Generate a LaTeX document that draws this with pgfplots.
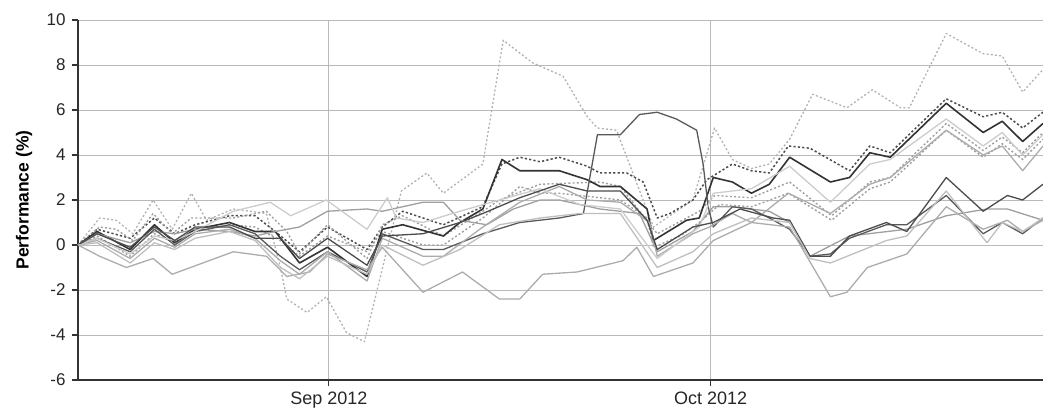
\documentclass[border=0pt]{standalone}
\usepackage{fontspec}
\setmainfont{Liberation Sans}
\usepackage{pgfplots}
\pgfplotsset{compat=1.18}

% x = days from 1 Sep 2012 (Oct 1 = 30)
\pgfplotsset{
  dl/.style={gray!60, line width=1.3pt, dash pattern=on 2pt off 2.2pt},
  dd/.style={black!70, line width=1.5pt, dash pattern=on 2.2pt off 2.2pt},
  dm/.style={gray!75, line width=1.4pt, dash pattern=on 2pt off 2.2pt},
  sd/.style={black!80, line width=1.6pt},
  sm/.style={gray!75, line width=1.3pt},
  sl/.style={gray!50, line width=1.3pt},
}

\begin{document}
\begin{tikzpicture}
\begin{axis}[
  name=ax,
  scale only axis,
  width=965pt, height=360pt,
  xmin=-19.7, xmax=56.1,
  ymin=-6, ymax=10,
  ytick={-6,-4,...,10},
  xtick={0,30},
  xticklabels={Sep 2012, Oct 2012},
  axis x line*=bottom,
  axis y line*=left,
  axis line style={black!80, line width=1.8pt, -},
  ymajorgrids, xmajorgrids,
  grid style={gray!55, line width=0.8pt},
  tick style={black!80, line width=1.2pt},
  major tick length=6pt,
  tick align=outside,
  yticklabel style={font=\fontsize{17}{19}\selectfont, text=black!85, xshift=-3pt},
  xticklabel style={font=\fontsize{18}{20}\selectfont, text=black!85, yshift=-2pt},
  /pgf/number format/assume math mode=true,
  ylabel={\bfseries Performance (\%)},
  ylabel style={font=\fontsize{17.5}{19}\selectfont, at={([xshift=-54pt]axis description cs:0,0.5)}, anchor=center},
  every axis plot/.append style={line join=round, mark=none},
]
% light dotted, most volatile
\addplot[dl] coordinates {(-19.7,0) (-18.0,1.2) (-16.7,1.1) (-15.4,0.5) (-13.8,2.0) (-12.3,0.7) (-10.8,2.3) (-9.6,1.1) (-7.5,1.6) (-4.9,1.4) (-3.8,-1.0) (-3.3,-2.4) (-1.7,-3.0) (-0.2,-2.3) (1.4,-3.9) (2.8,-4.3) (5.7,2.4) (7.7,3.2) (9.0,2.3) (12.1,3.6) (13.7,9.1) (16.0,8.1) (18.4,7.5) (20.3,5.7) (21.1,5.2) (22.6,5.1) (25.5,0.8) (28.6,2.0) (30.3,5.2) (31.7,3.8) (33.2,3.4) (34.6,3.6) (36.2,4.7) (38.0,6.7) (40.7,6.1) (42.7,6.9) (44.9,6.1) (45.6,6.1) (48.5,9.4) (51.4,8.5) (52.9,8.4) (54.5,6.8) (56.1,7.8)};
% dark dotted, upper
\addplot[dd] coordinates {(-19.7,0) (-18.2,0.7) (-15.6,0.3) (-13.7,1.2) (-12.1,0.5) (-10.5,0.9) (-7.8,1.3) (-5.8,1.3) (-4.2,0.6) (-2.3,-0.3) (-0.1,0.8) (3.0,-0.2) (4.2,0.8) (5.8,1.5) (9.0,0.9) (12.1,1.7) (13.6,3.6) (15.0,3.9) (16.6,3.7) (18.1,3.9) (20.3,3.5) (21.3,3.2) (23.4,3.2) (24.7,2.8) (25.8,1.2) (26.8,1.4) (28.6,2.0) (29.7,2.9) (31.7,3.6) (33.2,3.3) (34.6,3.2) (36.1,4.4) (37.8,4.3) (40.9,3.3) (42.5,4.4) (44.1,4.1) (48.5,6.5) (51.4,5.7) (52.9,5.9) (54.5,5.2) (56.1,5.9)};
% mid dotted
\addplot[dm] coordinates {(-19.7,0) (-18.2,0.4) (-15.6,-0.5) (-13.7,0.5) (-12.1,0.1) (-10.5,0.6) (-7.8,0.9) (-5.8,0.8) (-3.8,0.2) (-2.3,-0.5) (-0.1,0.4) (3.0,-0.3) (4.2,0.6) (7.4,0.0) (9.0,0.0) (12.1,1.2) (15.0,2.6) (16.6,2.3) (18.1,2.3) (22.9,2.0) (25.0,1.2) (25.5,-0.1) (27.6,0.4) (29.1,1.0) (30.7,1.8) (33.2,1.7) (36.1,2.3) (39.5,1.1) (42.5,2.5) (44.1,2.8) (48.5,5.1) (51.4,3.9) (52.9,4.5) (54.5,3.8) (56.1,4.7)};
\addplot[dm] coordinates {(-19.7,0) (-18.0,0.8) (-16.7,0.7) (-15.4,0.2) (-13.8,1.4) (-12.3,0.5) (-10.8,1.2) (-7.5,1.2) (-4.9,1.5) (-3.3,0.6) (-2.3,-0.4) (-0.1,0.9) (3.0,-0.6) (4.2,0.9) (5.8,1.3) (9.0,0.4) (12.1,1.5) (13.4,2.0) (16.6,2.7) (21.3,2.8) (22.9,2.6) (25.8,0.5) (29.1,1.5) (30.3,2.2) (33.2,2.1) (36.2,2.8) (39.5,1.3) (42.5,2.8) (44.1,3.0) (48.5,5.4) (51.4,4.2) (52.9,4.8) (54.5,4.1) (56.1,5.0)};
% dark solid, main
\addplot[sd] coordinates {(-19.7,0) (-18.2,0.6) (-15.6,-0.2) (-13.7,0.9) (-12.1,0.1) (-10.5,0.7) (-7.8,1.0) (-5.8,0.6) (-4.2,0.6) (-2.3,-0.8) (-0.1,-0.1) (3.0,-1.4) (4.2,0.7) (5.8,0.9) (9.0,0.4) (10.3,1.0) (12.1,1.6) (13.6,3.8) (15.0,3.3) (18.1,3.3) (20.3,2.9) (21.3,2.6) (22.9,2.6) (25.0,1.6) (25.5,0.2) (28.1,1.1) (29.1,1.2) (30.2,3.0) (31.7,2.8) (33.2,2.3) (34.6,2.7) (36.2,3.9) (39.4,2.8) (40.9,3.0) (42.5,4.1) (44.1,3.9) (48.5,6.3) (51.4,5.0) (52.9,5.5) (54.5,4.6) (56.1,5.4)};
% steady
\addplot[sm] coordinates {(-19.7,0) (-18.2,0.5) (-15.6,0.1) (-13.7,0.6) (-12.1,0.5) (-10.5,0.7) (-7.8,0.6) (-5.8,0.4) (-4.2,0.6) (-2.3,0.8) (-0.1,1.5) (3.0,1.6) (4.2,1.5) (7.4,1.9) (9.0,1.9) (10.3,1.1) (12.4,0.9) (14.5,1.6) (16.6,2.0) (18.1,2.0) (21.3,1.6) (24.4,1.4) (25.8,-0.3) (28.6,0.6) (30.2,1.7) (31.7,1.7) (34.6,1.5) (36.2,1.0) (37.8,-0.5) (40.9,0.4) (45.4,0.7) (48.5,1.3) (51.7,1.6) (53.3,1.6) (56.1,1.1)};
% bump
\addplot[sm, black!65] coordinates {(-19.7,0) (-18.2,0.3) (-15.6,-0.3) (-13.7,0.7) (-12.1,0.0) (-10.5,0.6) (-7.8,0.9) (-5.8,0.5) (-3.8,-0.5) (-2.3,-1.1) (-0.1,-0.3) (3.0,-1.2) (4.2,0.5) (7.4,-0.2) (9.0,-0.2) (12.1,0.5) (15.0,1.0) (18.1,1.2) (20.0,1.4) (21.1,4.9) (22.9,4.9) (24.4,5.8) (25.8,5.9) (27.3,5.6) (28.9,5.1) (29.4,3.6) (29.8,1.7) (30.2,0.8) (31.7,1.7) (33.2,1.6) (34.6,1.2) (36.2,0.7) (37.8,-0.5) (39.4,-0.4) (40.9,0.3) (43.8,0.9) (45.4,0.9) (48.5,2.2) (51.4,0.5) (52.9,1.0) (54.5,0.5) (56.1,1.2)};
\addplot[sm, gray!65] coordinates {(-19.7,0) (-18.2,0.2) (-15.6,-0.6) (-13.7,0.3) (-12.1,-0.1) (-10.5,0.5) (-7.8,0.7) (-5.8,0.3) (-3.8,-0.7) (-2.3,-1.3) (-0.1,-0.3) (3.0,-1.6) (4.2,0.3) (7.4,-0.5) (9.0,-0.5) (12.1,0.8) (15.0,1.9) (18.1,2.6) (20.3,2.0) (22.9,1.9) (25.2,1.0) (25.8,-0.5) (28.6,0.5) (29.9,0.8) (31.7,1.4) (33.2,1.0) (36.1,2.3) (39.4,1.4) (42.5,2.7) (44.1,3.0) (48.5,5.1) (51.4,4.0) (52.9,4.4) (54.5,3.3) (56.1,4.4)};
% light solid, upper
\addplot[sl, gray!40] coordinates {(-19.7,0) (-18.2,0.3) (-15.6,-0.4) (-13.7,0.4) (-12.1,0.2) (-10.5,0.6) (-7.5,1.5) (-4.6,1.9) (-3.0,1.3) (-0.2,2.0) (3.0,0.7) (4.6,2.1) (5.3,1.2) (7.4,1.0) (10.3,1.5) (13.4,2.0) (16.6,2.5) (19.7,1.8) (22.9,1.6) (25.8,-0.6) (29.1,0.8) (30.2,2.3) (33.2,2.5) (36.2,3.5) (39.4,1.9) (42.5,3.6) (44.1,3.8) (48.5,5.6) (51.4,4.4) (52.9,5.0) (54.5,4.0) (56.1,4.9)};
% bottom
\addplot[sm, gray!65] coordinates {(-19.7,0) (-18.0,-0.5) (-15.9,-1.0) (-13.8,-0.6) (-12.3,-1.3) (-7.5,-0.3) (-4.9,-0.5) (-3.3,-1.4) (-1.5,-1.2) (-0.1,-0.4) (3.0,-1.1) (4.2,-0.1) (7.4,-2.1) (10.5,-1.2) (13.4,-2.4) (15.0,-2.4) (16.8,-1.3) (19.5,-1.2) (23.1,-0.7) (24.2,-0.1) (25.5,-1.4) (28.6,-0.8) (30.2,0.2) (33.2,1.0) (36.2,0.8) (39.4,-2.3) (40.7,-2.1) (42.3,-1.0) (45.4,-0.4) (48.5,1.7) (51.4,0.7) (53.3,1.1) (54.5,0.6) (56.1,1.1)};
% lower dark
\addplot[sm, black!70] coordinates {(-19.7,0) (-18.2,0.5) (-15.6,-0.1) (-13.7,0.8) (-12.1,0.2) (-10.5,0.8) (-7.8,0.8) (-5.8,0.3) (-3.8,0.3) (-2.3,-0.6) (-0.1,0.3) (3.0,-0.9) (4.2,0.4) (7.4,0.5) (10.3,1.0) (12.1,1.4) (15.0,2.1) (18.1,2.7) (20.3,2.4) (22.9,2.4) (25.0,1.1) (25.8,-0.2) (28.6,0.8) (30.2,1.0) (32.3,1.6) (34.9,1.2) (36.2,1.1) (37.8,-0.5) (39.4,-0.5) (40.9,0.4) (43.8,1.0) (45.4,0.6) (48.5,3.0) (51.4,1.5) (53.3,2.2) (54.5,2.0) (56.1,2.7)};
% lower light
\addplot[sl] coordinates {(-19.7,0) (-18.2,0.1) (-15.6,-0.8) (-13.7,0.1) (-12.1,-0.2) (-10.5,0.3) (-7.8,0.6) (-5.8,0.2) (-3.8,-1.0) (-2.3,-1.5) (-0.1,-0.5) (3.0,-1.3) (4.2,0.0) (7.4,-0.9) (10.3,-0.2) (13.4,0.9) (16.6,1.2) (19.7,1.4) (22.9,1.4) (25.8,-1.0) (28.6,-0.3) (30.2,0.5) (33.2,1.2) (36.2,1.0) (37.8,-0.6) (39.4,-0.8) (43.8,0.2) (45.4,0.4) (48.5,2.4) (51.7,0.1) (52.9,1.0) (54.5,0.6) (56.1,1.2)};
\end{axis}
\pgfresetboundingbox
\path[use as bounding box] ([xshift=-78pt,yshift=-29pt]ax.south west) rectangle ([yshift=20pt]ax.north east);
\end{tikzpicture}
\end{document}
